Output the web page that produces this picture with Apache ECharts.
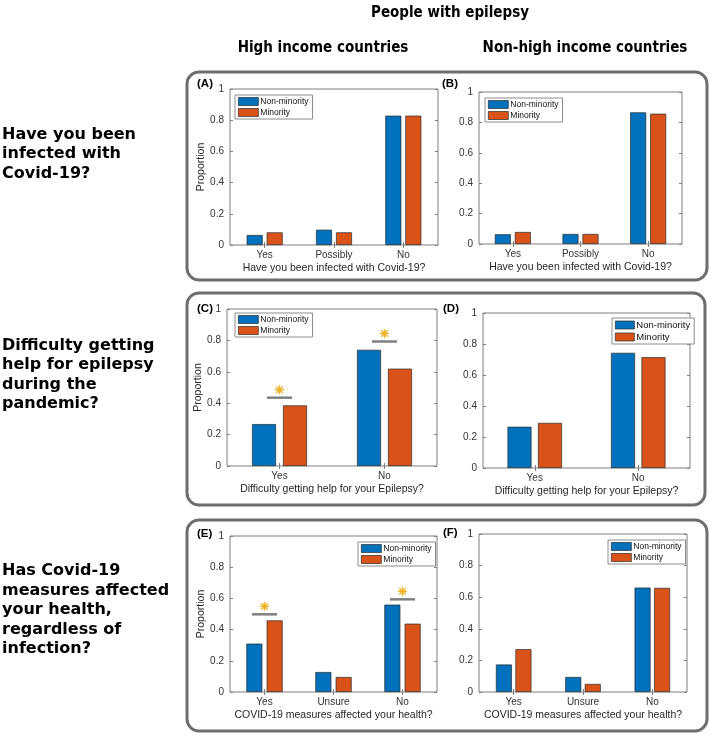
<!DOCTYPE html>
<html><head><meta charset="utf-8">
<script src="https://cdn.jsdelivr.net/npm/echarts@6/dist/echarts.min.js"></script>
<style>html,body{margin:0;padding:0;background:#fff}#c{width:709px;height:736px}</style>
</head><body><div id="c"></div>
<script>
// ---------- data ----------
const seriesNames = ['Non-minority', 'Minority'];
const catsInfected = ['Yes', 'Possibly', 'No'];
const catsHelp = ['Yes', 'No'];
const catsMeasures = ['Yes', 'Unsure', 'No'];
const nonMinA = [0.064, 0.098, 0.829];
const minA    = [0.081, 0.081, 0.829];
const nonMinB = [0.064, 0.066, 0.866];
const minB    = [0.079, 0.066, 0.857];
const nonMinC = [0.267, 0.740];
const minC    = [0.386, 0.620];
const nonMinD = [0.266, 0.743];
const minD    = [0.291, 0.715];
const nonMinE = [0.310, 0.128, 0.560];
const minE    = [0.459, 0.096, 0.438];
const nonMinF = [0.174, 0.095, 0.661];
const minF    = [0.271, 0.051, 0.659];
// significance markers: [category index, height]
const sigC = [[0, 0.435], [1, 0.793]];
const sigE = [[0, 0.498], [2, 0.594]];
const xTitleA = 'Have you been infected with Covid-19?';
const xTitleC = 'Difficulty getting help for your Epilepsy?';
const xTitleE = 'COVID-19 measures affected your health?';
const yTitle = 'Proportion';
const panelTags = ['(A)', '(B)', '(C)', '(D)', '(E)', '(F)'];
const mainTitle = 'People with epilepsy';
const colTitles = ['High income countries', 'Non-high income countries'];
const rowTitles = [
  ['Have you been', 'infected with', 'Covid-19?'],
  ['Difficulty getting', 'help for epilepsy', 'during the', 'pandemic?'],
  ['Has Covid-19', 'measures affected', 'your health,', 'regardless of', 'infection?']
];

// ---------- layout ----------
const panels = [
  {cats: catsInfected, non: nonMinA, min: minA, xt: xTitleA, ylab: true, g: {left: 230, top: 89, width: 208, height: 156}, lg: {left: 235, top: 95, fs: 8.5, iw: 20, ih: 8}, bw: 16, gap: '25%', sig: null},
  {cats: catsInfected, non: nonMinB, min: minB, xt: xTitleA, ylab: false, g: {left: 479, top: 92, width: 203, height: 152}, lg: {left: 485, top: 98, fs: 8.5, iw: 20, ih: 8}, bw: 16, gap: '25%', sig: null},
  {cats: catsHelp, non: nonMinC, min: minC, xt: xTitleC, ylab: true, g: {left: 227, top: 309, width: 210, height: 157}, lg: {left: 235, top: 313, fs: 8.5, iw: 20, ih: 8}, bw: 24, gap: '29%', sig: sigC},
  {cats: catsHelp, non: nonMinD, min: minD, xt: xTitleC, ylab: false, g: {left: 483, top: 313, width: 207, height: 155}, lg: {left: 612, top: 318, fs: 9.5, iw: 19, ih: 8}, bw: 24, gap: '27%', sig: null},
  {cats: catsMeasures, non: nonMinE, min: minE, xt: xTitleE, ylab: true, g: {left: 230, top: 536, width: 207, height: 156}, lg: {left: 358, top: 542, fs: 8.5, iw: 20, ih: 8}, bw: 16, gap: '27%', sig: sigE},
  {cats: catsMeasures, non: nonMinF, min: minF, xt: xTitleE, ylab: false, g: {left: 479, top: 534, width: 208, height: 158}, lg: {left: 608, top: 540, fs: 8.5, iw: 20, ih: 8}, bw: 16, gap: '22%', sig: null}
];
const tagPos = [[197, 84], [442, 84], [197, 309], [443, 309], [197, 534], [443, 533]];
const boxes = [[187, 72, 520, 208], [187, 293, 518, 212], [187, 520, 520, 211]];
const rowCenters = [154, 375, 610];

const BLUE = '#0072BD', ORANGE = '#D95319', AX = '#7f7f7f', TXT = '#333333';
const FONT = '"Liberation Sans", Arial, sans-serif';

const grids = [], xAxes = [], yAxes = [], series = [], legends = [], graphics = [];
panels.forEach((p, i) => {
  grids.push(Object.assign({show: true, borderColor: AX, borderWidth: 1, backgroundColor: '#fff', containLabel: false}, p.g));
  xAxes.push({type: 'category', gridIndex: i, data: p.cats, position: 'bottom',
    axisLine: {show: false}, axisTick: {show: true, inside: true, alignWithLabel: true, length: 3, lineStyle: {color: AX}},
    axisLabel: {color: TXT, fontSize: 10, fontFamily: FONT, margin: 5},
    name: p.xt, nameLocation: 'middle', nameGap: 18, nameTextStyle: {color: '#262626', fontSize: 10.5, fontFamily: FONT, verticalAlign: 'top'}});
  xAxes.push({type: 'category', gridIndex: i, data: p.cats, position: 'top',
    axisLine: {show: false}, axisTick: {show: true, inside: true, alignWithLabel: true, length: 3, lineStyle: {color: AX}},
    axisLabel: {show: false}});
  yAxes.push({type: 'value', gridIndex: i, min: 0, max: 1, interval: 0.2, position: 'left',
    axisLine: {show: false}, splitLine: {show: false},
    axisTick: {show: true, inside: true, length: 3, lineStyle: {color: AX}},
    axisLabel: {color: TXT, fontSize: 10, fontFamily: FONT, margin: 6},
    name: p.ylab ? yTitle : '', nameLocation: 'middle', nameGap: 19, nameRotate: 90,
    nameTextStyle: {color: '#262626', fontSize: 10.5, fontFamily: FONT}});
  yAxes.push({type: 'value', gridIndex: i, min: 0, max: 1, interval: 0.2, position: 'right',
    axisLine: {show: false}, splitLine: {show: false},
    axisTick: {show: true, inside: true, length: 3, lineStyle: {color: AX}},
    axisLabel: {show: false}});
  const xi = 2 * i, yi = 2 * i;
  series.push({type: 'bar', name: seriesNames[0], xAxisIndex: xi, yAxisIndex: yi, data: p.non,
    barWidth: p.bw, barGap: p.gap, itemStyle: {color: BLUE, borderColor: '#2b2b2b', borderWidth: 0.7}, silent: true, animation: false});
  series.push({type: 'bar', name: seriesNames[1], xAxisIndex: xi, yAxisIndex: yi, data: p.min,
    barWidth: p.bw, barGap: p.gap, itemStyle: {color: ORANGE, borderColor: '#2b2b2b', borderWidth: 0.7}, silent: true, animation: false});
  if (p.sig) {
    series.push({type: 'custom', name: 'sig' + i, xAxisIndex: xi, yAxisIndex: yi, data: p.sig, animation: false, silent: true,
      encode: {x: 0, y: 1},
      renderItem: function (params, api) {
        const pt = api.coord([api.value(0), api.value(1)]);
        const cx = pt[0], cy = pt[1] - 8, r = 4.5, d = r * 0.707;
        const st = {stroke: '#EDB120', lineWidth: 1.4};
        return {type: 'group', children: [
          {type: 'line', shape: {x1: pt[0] - 12.5, y1: pt[1], x2: pt[0] + 12.5, y2: pt[1]}, style: {stroke: '#808080', lineWidth: 2.5}},
          {type: 'line', shape: {x1: cx - r, y1: cy, x2: cx + r, y2: cy}, style: st},
          {type: 'line', shape: {x1: cx, y1: cy - r, x2: cx, y2: cy + r}, style: st},
          {type: 'line', shape: {x1: cx - d, y1: cy - d, x2: cx + d, y2: cy + d}, style: st},
          {type: 'line', shape: {x1: cx - d, y1: cy + d, x2: cx + d, y2: cy - d}, style: st}
        ]};
      }});
  }
  legends.push({data: seriesNames, left: p.lg.left, top: p.lg.top, orient: 'vertical', selectedMode: false,
    backgroundColor: '#fff', borderColor: '#8c8c8c', borderWidth: 1, padding: [2, 4, 2, 3], itemGap: 2,
    itemWidth: p.lg.iw, itemHeight: p.lg.ih, icon: 'rect',
    itemStyle: {borderColor: '#2b2b2b', borderWidth: 0.7},
    textStyle: {fontSize: p.lg.fs, color: '#111', fontFamily: FONT, padding: [0, 0, 0, -3]}});
});

// boxes
boxes.forEach(b => graphics.push({type: 'rect', shape: {x: b[0], y: b[1], width: b[2], height: b[3], r: 12},
  style: {fill: 'none', stroke: '#6e6e6e', lineWidth: 3}, silent: true, z: 0}));
// panel tags
panelTags.forEach((t, i) => graphics.push({type: 'text', x: tagPos[i][0], y: tagPos[i][1],
  style: {text: t, fontSize: 11.5, fontWeight: 'bold', fontFamily: FONT, fill: '#000', verticalAlign: 'middle'}}));
// headers
const HF = '"DejaVu Sans Condensed", "DejaVu Sans", sans-serif';
graphics.push({type: 'text', x: 450, y: 13, style: {text: mainTitle, fontSize: 15, fontWeight: 'bold', fontFamily: HF, fill: '#000', align: 'center', verticalAlign: 'middle'}});
graphics.push({type: 'text', x: 323, y: 48, style: {text: colTitles[0], fontSize: 15, fontWeight: 'bold', fontFamily: HF, fill: '#000', align: 'center', verticalAlign: 'middle'}});
graphics.push({type: 'text', x: 585, y: 48, style: {text: colTitles[1], fontSize: 15, fontWeight: 'bold', fontFamily: HF, fill: '#000', align: 'center', verticalAlign: 'middle'}});
// row titles
rowTitles.forEach((lines, r) => {
  const lh = 19.5, y0 = rowCenters[r] - (lines.length - 1) * lh / 2;
  lines.forEach((ln, k) => graphics.push({type: 'text', x: 2, y: y0 + k * lh,
    style: {text: ln, fontSize: 16, fontWeight: 'bold', fontFamily: '"DejaVu Sans", sans-serif', fill: '#000', verticalAlign: 'middle'}}));
});

const chart = echarts.init(document.getElementById('c'), null, {renderer: 'canvas'});
chart.setOption({animation: false, backgroundColor: '#fff', grid: grids, xAxis: xAxes, yAxis: yAxes, series: series, legend: legends, graphic: graphics});
</script></body></html>
